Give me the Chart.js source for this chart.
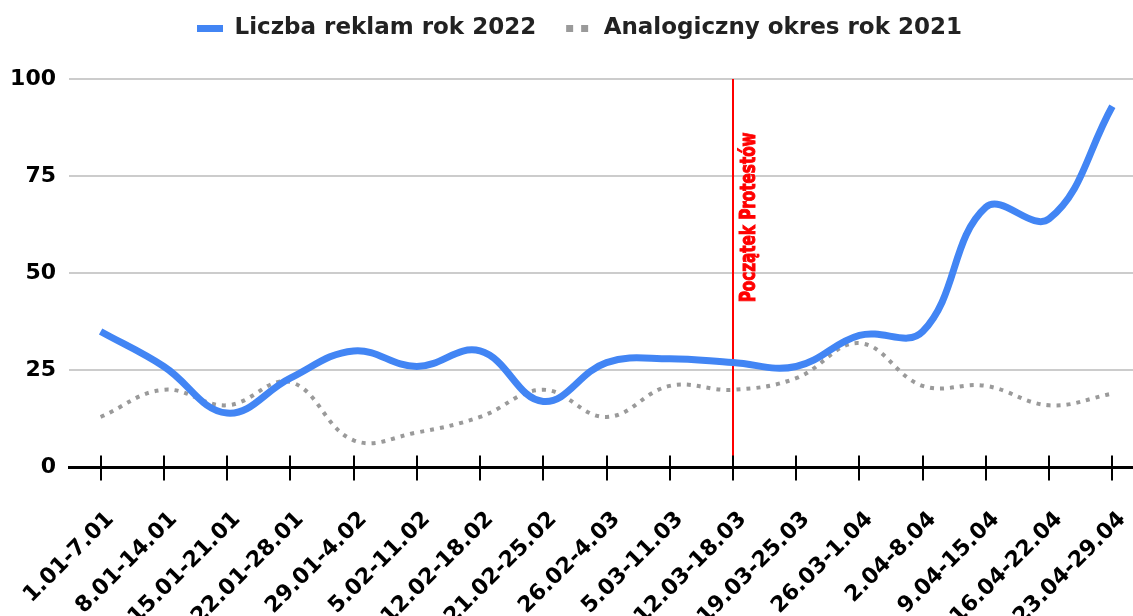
<!DOCTYPE html>
<html lang="pl">
<head>
    <meta charset="UTF-8">
    <title>Liczba reklam 2022 vs 2021</title>
    <script src="https://cdn.jsdelivr.net/npm/chart.js"></script>
    <style>
        html, body {
            margin: 0;
            padding: 0;
            background: #fff;
            overflow: hidden;
        }
        .wrap {
            width: 1144px;
            height: 661px;
        }
    </style>
</head>
<body>
    <div class="wrap"><canvas id="chart" width="1144" height="661"></canvas></div>

    <script>
        // weekly periods
        const weeks = ['1.01-7.01', '8.01-14.01', '15.01-21.01', '22.01-28.01', '29.01-4.02', '5.02-11.02',
            '12.02-18.02', '21.02-25.02', '26.02-4.03', '5.03-11.03', '12.03-18.03', '19.03-25.03',
            '26.03-1.04', '2.04-8.04', '9.04-15.04', '16.04-22.04', '23.04-29.04'];

        const ads2022 = [35, 26, 14, 23, 30, 26, 30, 17, 27, 28, 27, 26, 34, 35, 67, 64, 93];
        const ads2021 = [13, 20, 16, 22, 7, 9, 13, 20, 13, 21, 20, 23, 32, 21, 21, 16, 19];

        const yTicks = [0, 25, 50, 75, 100];

        // marker for start of protests
        const protestWeek = '12.03-18.03';
        const protestLabel = 'Początek Protestów';

        const mainFont = 'DejaVu Sans';

        // extra room under the legend
        const legendGap = {
            id: 'legendGap',
            beforeInit(chart) {
                const fit = chart.legend.fit;
                chart.legend.fit = function () {
                    fit.call(this);
                    this.height += 29;
                };
            }
        };

        // red marker line + caption, and the cross ticks on the x axis
        const extras = {
            id: 'extras',
            beforeDatasetsDraw(chart) {
                const {ctx, scales: {x, y}} = chart;
                const px = Math.round(x.getPixelForValue(weeks.indexOf(protestWeek)));
                ctx.save();
                ctx.strokeStyle = '#ff0000';
                ctx.lineWidth = 2;
                ctx.beginPath();
                ctx.moveTo(px, y.getPixelForValue(100));
                ctx.lineTo(px, y.getPixelForValue(0));
                ctx.stroke();

                ctx.font = 'bold 22px "Liberation Sans Narrow", "DejaVu Sans Condensed", sans-serif';
                const w = ctx.measureText(protestLabel).width;
                ctx.translate(px + 22, y.getPixelForValue(42.5));
                ctx.rotate(-Math.PI / 2);
                ctx.scale(170 / w, 1);
                ctx.fillStyle = '#ff0000';
                ctx.strokeStyle = '#ff0000';
                ctx.lineWidth = 1;
                ctx.textAlign = 'left';
                ctx.textBaseline = 'alphabetic';
                ctx.fillText(protestLabel, 0, 0);
                ctx.strokeText(protestLabel, 0, 0);
                ctx.restore();
            },
            afterDraw(chart) {
                const {ctx, scales: {x, y}} = chart;
                const y0 = y.getPixelForValue(0);
                ctx.save();
                ctx.strokeStyle = '#000';
                ctx.lineWidth = 2;
                for (let i = 0; i < weeks.length; i++) {
                    const px = Math.round(x.getPixelForTick(i));
                    ctx.beginPath();
                    ctx.moveTo(px, y0 - 12);
                    ctx.lineTo(px, y0 + 13);
                    ctx.stroke();
                }
                ctx.restore();
            }
        };

        new Chart(document.getElementById('chart'), {
            type: 'line',
            data: {
                labels: weeks,
                datasets: [
                    {
                        label: 'Liczba reklam rok 2022',
                        data: ads2022,
                        borderColor: '#4285f4',
                        backgroundColor: '#4285f4',
                        borderWidth: 7,
                        tension: 0.4,
                        pointRadius: 0,
                        borderJoinStyle: 'round',
                        clip: false
                    },
                    {
                        label: 'Analogiczny okres rok 2021',
                        data: ads2021,
                        borderColor: '#9a9a9a',
                        backgroundColor: '#9a9a9a',
                        borderWidth: 4,
                        borderDash: [4, 6],
                        tension: 0.4,
                        pointRadius: 0,
                        clip: false
                    }
                ]
            },
            options: {
                responsive: false,
                animation: false,
                layout: {
                    padding: {left: 10, top: -13, right: -5, bottom: 0}
                },
                plugins: {
                    legend: {
                        position: 'top',
                        labels: {
                            color: '#222',
                            font: {family: mainFont, size: 23, weight: 'bold'},
                            usePointStyle: true,
                            pointStyle: 'line',
                            pointStyleWidth: 26,
                            padding: 30,
                            generateLabels(chart) {
                                const items = Chart.defaults.plugins.legend.labels.generateLabels(chart);
                                items.forEach(it => {
                                    it.pointStyle = 'line';
                                    it.lineWidth = 7;
                                    it.lineDash = it.datasetIndex === 0 ? [] : [7, 8];
                                });
                                return items;
                            }
                        }
                    },
                    tooltip: {enabled: false}
                },
                scales: {
                    x: {
                        offset: true,
                        grid: {display: false},
                        border: {display: true, color: '#000', width: 3},
                        ticks: {
                            color: '#000',
                            font: {family: mainFont, size: 22, weight: 'bold'},
                            minRotation: 45,
                            maxRotation: 45,
                            autoSkip: false,
                            padding: 31,
                            labelOffset: 10
                        },
                        afterFit(scale) {
                            scale.paddingLeft = 0;
                            scale.paddingRight = 0;
                        }
                    },
                    y: {
                        min: 0,
                        max: 100,
                        afterBuildTicks(scale) {
                            scale.ticks = yTicks.map(v => ({value: v}));
                        },
                        grid: {color: '#cccccc', lineWidth: 2, drawTicks: false},
                        border: {display: false},
                        ticks: {
                            color: '#000',
                            font: {family: mainFont, size: 22, weight: 'bold'},
                            padding: 13
                        },
                        afterFit(scale) {
                            scale.width = 59;
                        }
                    }
                }
            },
            plugins: [legendGap, extras]
        });
    </script>
</body>
</html>
